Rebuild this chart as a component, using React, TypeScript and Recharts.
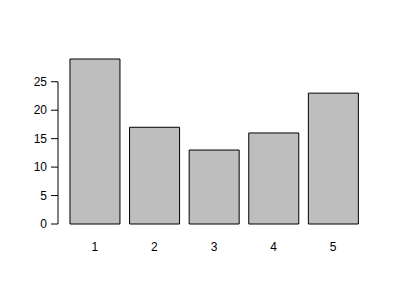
import React from 'react';
import { BarChart, Bar, XAxis, YAxis } from 'recharts';

const categories = ['1', '2', '3', '4', '5'];
const values = [29, 17, 13, 16, 23];
const yTicks = [0, 5, 10, 15, 20, 25];

const data = categories.map((c, i) => ({ name: c, value: values[i] }));

const CHART_H = 300;
const MARGIN = { top: 59, right: 37, bottom: 46, left: 20 };
const X_AXIS_H = 30;
const PLOT_BOTTOM = CHART_H - MARGIN.bottom - X_AXIS_H;

const YTick = (props: any) => {
  const { x, y, payload } = props;
  const v = payload.value;
  const ax = x - 7;
  return (
    <g>
      <line x1={ax - 7} x2={ax} y1={y} y2={y} stroke="#000" strokeWidth={1} />
      {v === yTicks[yTicks.length - 1] && (
        <line x1={ax} x2={ax} y1={y} y2={PLOT_BOTTOM} stroke="#000" strokeWidth={1} />
      )}
      <text x={ax - 11} y={y} dy="0.35em" textAnchor="end" fontSize={12} fill="#000"
        fontFamily="'Liberation Sans', Arial, sans-serif">{v}</text>
    </g>
  );
};

export default function App() {
  return (
    <div style={{ position: 'absolute', left: 0, top: 0, width: 400, height: 300, background: '#fff' }}>
      <BarChart width={400} height={CHART_H} data={data} margin={MARGIN} barCategoryGap="8.33%">
        <XAxis dataKey="name" axisLine={false} tickLine={false} tickSize={0} tickMargin={18}
          height={X_AXIS_H} interval={0}
          tick={{ fontSize: 12, fill: '#000', fontFamily: "'Liberation Sans', Arial, sans-serif" }} />
        <YAxis domain={[0, 29]} ticks={yTicks} axisLine={false} tickLine={false} tickSize={0}
          tickMargin={0} width={45} interval={0} tick={<YTick />} />
        <Bar dataKey="value" fill="#BEBEBE" stroke="#000" strokeWidth={1} isAnimationActive={false} />
      </BarChart>
    </div>
  );
}
